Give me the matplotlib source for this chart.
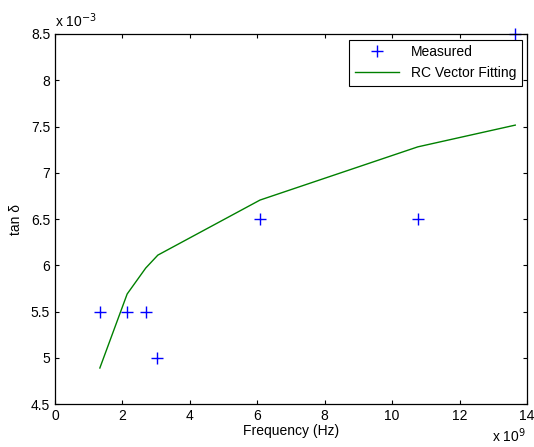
import numpy as np
import matplotlib
matplotlib.use('Agg')
import matplotlib.pyplot as plt

plt.rcParams['font.family'] = ['Liberation Sans', 'DejaVu Sans']

# measured loss tangent (freq in units of 1e9 Hz, tan d in units of 1e-3)
freq_meas = [1.33, 2.14, 2.69, 3.02, 6.08, 10.76, 13.65]
tand_meas = [5.5, 5.5, 5.5, 5.0, 6.5, 6.5, 8.5]

# RC vector fitting curve
freq_fit = [1.33, 2.14, 2.69, 3.05, 6.08, 10.76, 13.65]
tand_fit = [4.89, 5.69, 5.97, 6.11, 6.705, 7.28, 7.515]

fs = 10

fig = plt.figure(figsize=[5.34, 4.47], dpi=100)
ax = fig.add_axes([0.103, 0.096, 0.884, 0.828])

ax.plot(freq_meas, tand_meas, '+', color='b', ms=8, mew=1.0, label='Measured', clip_on=False)
ax.plot(freq_fit, tand_fit, '-', color=(0, 0.5, 0), lw=1.0, label='RC Vector Fitting')

ax.set_xlim(0, 14)
ax.set_ylim(4.5, 8.5)
ax.set_xticks(np.arange(0, 15, 2))
ax.set_yticks(np.arange(4.5, 8.6, 0.5))
ax.set_yticklabels(['4.5', '5', '5.5', '6', '6.5', '7', '7.5', '8', '8.5'])
ax.tick_params(direction='in', top=True, right=True, labelsize=fs, length=3, width=0.8)
for s in ax.spines.values():
    s.set_linewidth(0.9)

ax.set_xlabel('Frequency (Hz)', fontsize=fs, labelpad=1)
ax.set_ylabel('tan δ', fontsize=fs, labelpad=6)

ax.text(0.0, 1.012, r'x 10$^{-3}$', transform=ax.transAxes, ha='left', va='bottom', fontsize=fs)
fig.text(0.985, 0.004, r'x 10$^{9}$', ha='right', va='bottom', fontsize=fs)

leg = ax.legend(loc='upper right', fontsize=fs, fancybox=False, framealpha=1,
                edgecolor='k', borderaxespad=0.4, handlelength=3.2)
leg.get_frame().set_linewidth(0.8)

plt.savefig('out.png', dpi=100)
